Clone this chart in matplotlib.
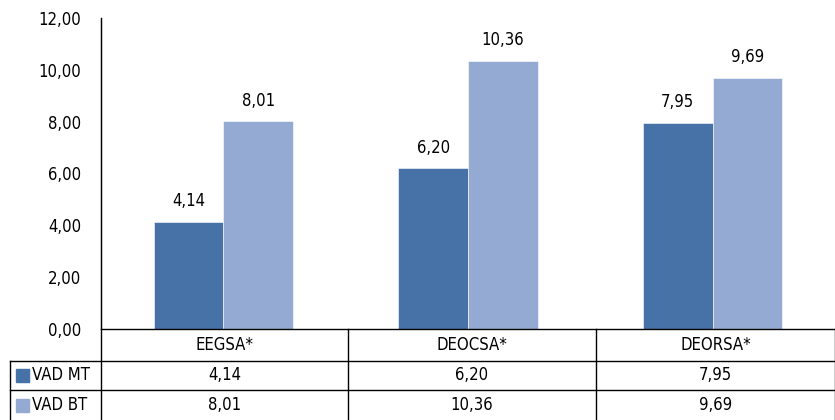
import numpy as np
import matplotlib.pyplot as plt
from matplotlib.patches import Rectangle

categories = ["EEGSA*", "DEOCSA*", "DEORSA*"]
series_names = ["VAD MT", "VAD BT"]
vad_mt = [4.14, 6.20, 7.95]
vad_bt = [8.01, 10.36, 9.69]
yticks = [0, 2, 4, 6, 8, 10, 12]

colors = ["#4672A7", "#95AAD2"]

plt.rcParams['font.family'] = ['DejaVu Sans']
plt.rcParams['font.stretch'] = 'condensed'


def fmt(v):
    return f"{v:.2f}".replace(".", ",")


W, H = 835, 420
fig = plt.figure(figsize=(W / 100, H / 100), dpi=100)
left, right, top, bottom = 101, 835, 18, 329
ax = fig.add_axes([left / W, 1 - bottom / H, (right - left) / W, (bottom - top) / H])

x = np.arange(len(categories))
bw = 0.285
for vals, col, off in [(vad_mt, colors[0], -bw / 2), (vad_bt, colors[1], bw / 2)]:
    ax.bar(x + off, vals, width=bw, color=col, edgecolor="white", linewidth=0.4)
    for xi, v in zip(x, vals):
        ax.text(xi + off, v + 0.45, fmt(v), ha="center", va="bottom", fontsize=12)

ax.set_xlim(-0.5, len(categories) - 0.5)
ax.set_ylim(0, 12)
ax.set_yticks(yticks)
ax.set_yticklabels([fmt(t) for t in yticks], fontsize=12)
ax.tick_params(axis="y", length=0, pad=14)
ax.set_xticks([])
for s in ["top", "right", "bottom"]:
    ax.spines[s].set_visible(False)
ax.spines["left"].set_color("#333333")

# data table below the axis, in pixel coordinates of the figure
def fy(py):
    return 1 - py / H

def fx(px):
    return px / W

lc = "black"
rows = [329, 361, 390, 420]
col_edges = [101, 348, 596, 835]
line_kw = dict(color=lc, linewidth=1.0, transform=fig.transFigure)

fig.add_artist(plt.Line2D([fx(101), fx(835)], [fy(329), fy(329)], **line_kw))
for ry in rows[1:3]:
    fig.add_artist(plt.Line2D([fx(10), fx(835)], [fy(ry), fy(ry)], **line_kw))
fig.add_artist(plt.Line2D([fx(10), fx(10)], [fy(361), fy(420)], **line_kw))
for cx in col_edges:
    fig.add_artist(plt.Line2D([fx(cx), fx(cx)], [fy(18 if cx == 101 else 329), fy(420)], **line_kw))

centers = [(col_edges[i] + col_edges[i + 1]) / 2 for i in range(3)]
for cx, cat in zip(centers, categories):
    fig.text(fx(cx), fy((rows[0] + rows[1]) / 2), cat, ha="center", va="center", fontsize=12)

for r, (name, vals, col) in enumerate(zip(series_names, [vad_mt, vad_bt], colors)):
    cy = (rows[r + 1] + rows[r + 2]) / 2
    fig.add_artist(Rectangle((fx(16), fy(cy + 6.5)), 13 / W, 13 / H, color=col,
                             transform=fig.transFigure))
    fig.text(fx(32), fy(cy), name, ha="left", va="center", fontsize=12)
    for cx, v in zip(centers, vals):
        fig.text(fx(cx), fy(cy), fmt(v), ha="center", va="center", fontsize=12)

fig.savefig("out.png", dpi=100)
